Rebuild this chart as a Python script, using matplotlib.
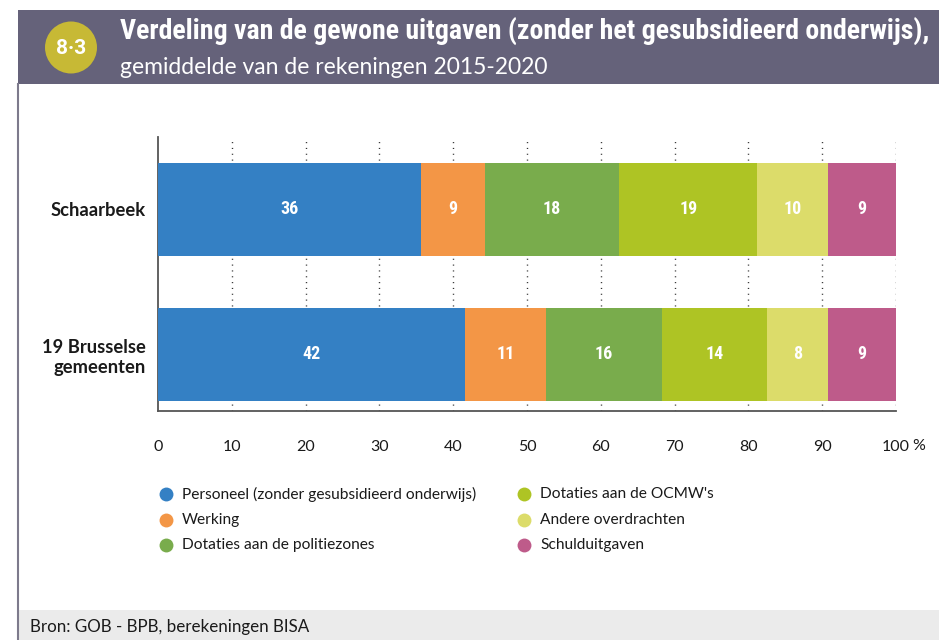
import matplotlib
matplotlib.use("Agg")
import matplotlib.pyplot as plt
from matplotlib import font_manager
from matplotlib.patches import Rectangle, Ellipse
from matplotlib.lines import Line2D

# ---- data -------------------------------------------------------------
categories = ["19 Brusselse\ngemeenten", "Schaarbeek"]
series_names = [
    "Personeel (zonder gesubsidieerd onderwijs)",
    "Werking",
    "Dotaties aan de politiezones",
    "Dotaties aan de OCMW's",
    "Andere overdrachten",
    "Schulduitgaven",
]
personeel = [41.6, 35.6]
werking = [11.0, 8.7]
politiezones = [15.7, 18.2]
ocmw = [14.2, 18.7]
andere = [8.3, 9.6]
schuld = [9.2, 9.2]
series_values = [personeel, werking, politiezones, ocmw, andere, schuld]
colors = ["#3480c4", "#f39646", "#79ac4c", "#aec424", "#dcdc6a", "#be5b8a"]
x_ticks = [0, 10, 20, 30, 40, 50, 60, 70, 80, 90, 100]

title = "Verdeling van de gewone uitgaven (zonder het gesubsidieerd onderwijs),"
subtitle = "gemiddelde van de rekeningen 2015-2020"
badge = "8\u00b73"
source = "Bron: GOB - BPB, berekeningen BISA"

# ---- fonts ------------------------------------------------------------
installed = {f.name for f in font_manager.fontManager.ttflist}


def pick(*names):
    for n in names:
        if n in installed:
            return [n, "DejaVu Sans"]
    return ["DejaVu Sans"]


BODY = pick("Lato", "Open Sans", "Noto Sans")
HEAD = pick("Roboto Condensed", "Liberation Sans Narrow",
            "DejaVu Sans Condensed", "Roboto")
plt.rcParams["font.family"] = BODY
TEXT = "#1a1a1a"

W, H = 939, 640


def fx(px):
    return px / W


def fy(py):
    return 1 - py / H


fig = plt.figure(figsize=(W / 100, H / 100), dpi=100)
fig.patch.set_facecolor("white")
renderer = fig.canvas.get_renderer()


def fit_width(txt, width_px):
    """Scale a text's font size so that it spans the given pixel width."""
    for _ in range(3):
        w = txt.get_window_extent(renderer=renderer).width
        txt.set_fontsize(txt.get_fontsize() * width_px / w)


# header band, badge and titles
fig.add_artist(Rectangle((fx(18), fy(84)), 1 - fx(18), 74 / H,
                         transform=fig.transFigure, facecolor="#65627a",
                         edgecolor="none", zorder=0))
fig.add_artist(Ellipse((fx(71), fy(47.5)), 52 / W, 52 / H,
                       transform=fig.transFigure, facecolor="#c7b935",
                       edgecolor="none", zorder=1))
fig.text(fx(71), fy(48), badge, color="white", fontsize=15, fontweight="bold",
         family=pick("Roboto"), ha="center", va="center", zorder=2)
t_title = fig.text(fx(120), fy(31), title, color="white", fontsize=18,
                   fontweight="bold", family=HEAD, ha="left", va="center")
fit_width(t_title, 809)
t_sub = fig.text(fx(120), fy(67), subtitle, color="white", fontsize=15,
                 ha="left", va="center")
fit_width(t_sub, 428)

# left frame line and footer band
fig.add_artist(Line2D([fx(18), fx(18)], [0, fy(84)], transform=fig.transFigure,
                      color="#7d7a8c", lw=1.5))
fig.add_artist(Rectangle((fx(19), 0), 1 - fx(19), 30 / H,
                         transform=fig.transFigure, facecolor="#ebebeb",
                         edgecolor="none", zorder=0))
t_src = fig.text(fx(30), fy(627), source, color=TEXT, fontsize=12.5,
                 ha="left", va="center")
fit_width(t_src, 282)

# ---- bar chart --------------------------------------------------------
ax = fig.add_axes([fx(158), fy(411), fx(896) - fx(158), (411 - 137) / H])
ypos = list(range(len(categories)))
left = [0.0] * len(categories)
for name, vals, col in zip(series_names, series_values, colors):
    bars = ax.barh(ypos, vals, left=left, height=0.64, color=col,
                   edgecolor="none", zorder=3, label=name)
    for b, v in zip(bars, vals):
        ax.text(b.get_x() + b.get_width() / 2, b.get_y() + b.get_height() / 2,
                f"{v:.0f}", color="white", fontsize=13, fontweight="bold",
                family=HEAD, ha="center", va="center", zorder=4)
    left = [l + v for l, v in zip(left, vals)]

ax.set_xlim(0, 100)
ax.set_ylim(-0.39, 1.5)
ax.set_xticks(x_ticks)
ax.set_xticklabels([str(t) for t in x_ticks])
ax.set_yticks(ypos)
ax.set_yticklabels(categories, fontweight="bold", fontsize=13.2,
                   multialignment="right")
ax.tick_params(axis="x", length=0, pad=21, labelsize=11.5, colors=TEXT)
ax.tick_params(axis="y", length=0, pad=9, colors=TEXT)
ax.annotate("%", xy=(100, 0), xycoords=("data", "axes fraction"),
            xytext=(23, -35), textcoords="offset pixels", fontsize=11.5,
            color=TEXT, ha="center", va="center")

for t in x_ticks[1:]:
    ax.axvline(t, color="#333333", lw=1.0, ls=(0, (0.8, 3.4)), zorder=1)

for side in ("top", "right"):
    ax.spines[side].set_visible(False)
for side in ("left", "bottom"):
    ax.spines[side].set_color("#555555")
    ax.spines[side].set_linewidth(1.3)

# ---- legend (two columns) ---------------------------------------------
col_x = [166, 524]
row_y = [494, 520, 545]
for i, (name, col) in enumerate(zip(series_names, colors)):
    c, r = divmod(i, 3)
    fig.add_artist(Line2D([fx(col_x[c])], [fy(row_y[r])], marker="o",
                          markersize=10, color=col, markeredgecolor="none",
                          linestyle="none", transform=fig.transFigure))
    lt = fig.text(fx(col_x[c] + 16), fy(row_y[r]), name, fontsize=11.5,
                  color=TEXT, ha="left", va="center")
    if i == 0:
        fit_width(lt, 294)
        legend_size = lt.get_fontsize()
    else:
        lt.set_fontsize(legend_size)

fig.savefig("out.png", dpi=100)
